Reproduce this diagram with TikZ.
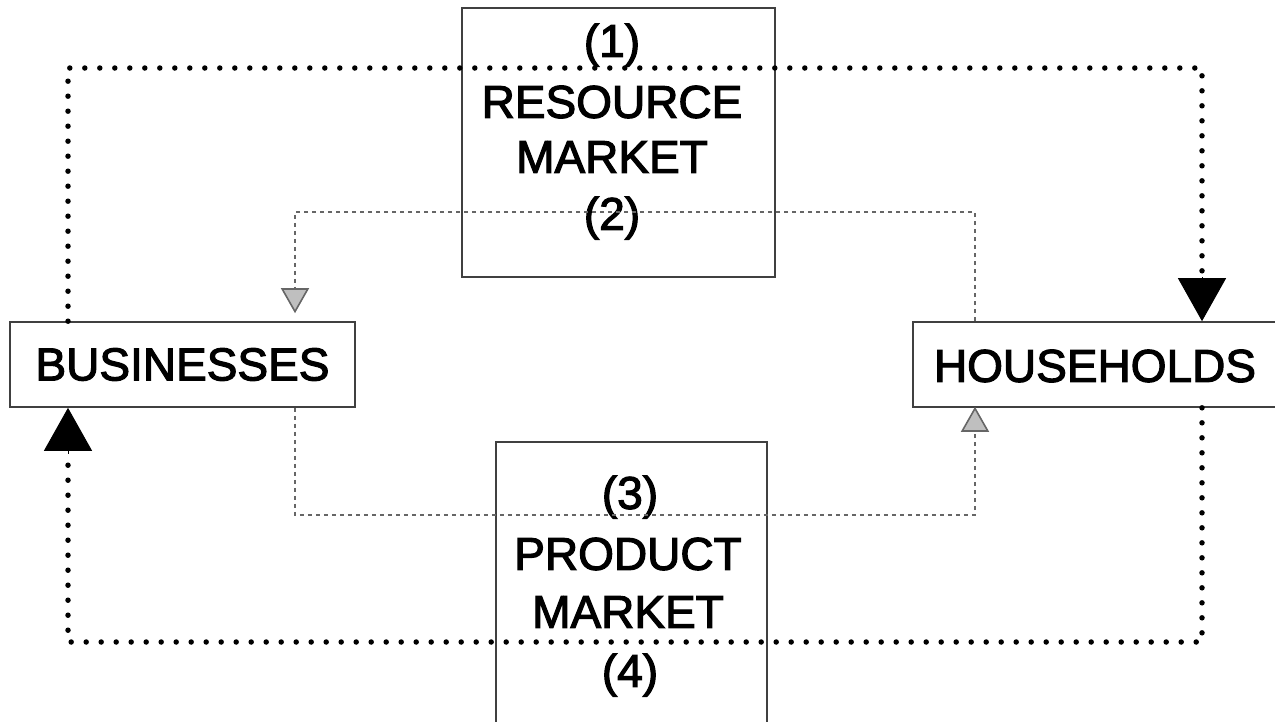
\documentclass[tikz,border=0pt]{standalone}
\usepackage{fontspec}
\setmainfont{Liberation Sans}
\newfontfamily\lblfont{Liberation Sans}[FakeBold=2.5]
\usetikzlibrary{arrows.meta}
\tikzset{
  boxline/.style={draw=black!75, line width=1.6pt, fill=none, inner sep=0pt},
  lbl/.style={inner sep=0pt, font=\lblfont\fontsize{46}{54}\selectfont},
  bigdot/.style={line width=5.5pt, line cap=round, dash pattern=on 0pt off 15pt, black},
  finedash/.style={line width=1.6pt, dash pattern=on 4pt off 4pt, black!60},
  bigtip/.style={-{Triangle[width=48pt,length=43pt]}},
  smalltip/.style={-{Triangle[width=28pt,length=25pt,fill=black!25,color=black!60]}}
}
\begin{document}
\begin{tikzpicture}[x=1pt,y=-1pt]
\useasboundingbox[fill=white] (0,0) rectangle (1275,721);
% boxes
\node[boxline, minimum width=313pt, minimum height=269pt] (rm) at (618.5,142.5) {};
\node[boxline, minimum width=271pt, minimum height=290pt] (pm) at (631.5,587) {};
\node[boxline, minimum width=345pt, minimum height=85pt, lbl] (bus) at (182.5,364.5) {BUSINESSES};
\node[boxline, minimum width=380pt, minimum height=85pt] (hh) at (1103,364.5) {};
\node[lbl] (hht) at (1095,366) {HOUSEHOLDS};
% labels
\node[lbl] (l1) at (612,45) {(1)};
\node[lbl] (rmA) at (612,102) {RESOURCE};
\node[lbl] (rmB) at (612,157) {MARKET};
\node[lbl] (l2) at (612,218) {(2)};
\node[lbl] (l3) at (630,497) {(3)};
\node[lbl] (pmA) at (628,554) {PRODUCT};
\node[lbl] (pmB) at (628,612) {MARKET};
\node[lbl] (l4) at (630,675) {(4)};
% helper coordinates
\coordinate (xa) at (68,0);
\coordinate (xb) at (1202,0);
\coordinate (xc) at (295,0);
\coordinate (xd) at (975,0);
\coordinate (ytop) at (0,68);
\coordinate (ybot) at (0,642);
\coordinate (yit) at (0,212);
\coordinate (yib) at (0,515);
% outer dotted loop
\draw[bigdot] (bus.north -| xa) -- (xa |- ytop) -- (xb |- ytop) -- ([yshift=40pt]hh.north -| xb);
\draw[bigtip, line width=1pt] ([yshift=44pt]hh.north -| xb) -- (hh.north -| xb);
\draw[bigdot] (hh.south -| xb) -- (xb |- ybot) -- (xa |- ybot) -- ([yshift=-44pt]bus.south -| xa);
\draw[bigtip, line width=1pt] ([yshift=-46pt]bus.south -| xa) -- (bus.south -| xa);
% inner dashed loop
\draw[finedash, smalltip, shorten >=8pt] (hh.north -| xd) -- (xd |- yit) -- (xc |- yit) -- (bus.north -| xc);
\draw[finedash, smalltip, shorten >=-1pt] (bus.south -| xc) -- (xc |- yib) -- (xd |- yib) -- (hh.south -| xd);
\end{tikzpicture}
\end{document}
